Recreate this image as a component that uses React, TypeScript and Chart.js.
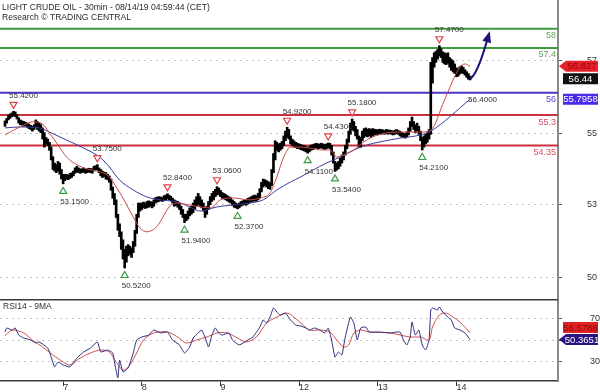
import React, { useEffect, useRef } from 'react';
import { Chart, registerables } from 'chart.js';

Chart.register(...registerables);

const FONT = '"Liberation Sans", Arial, sans-serif';

const titleText = 'LIGHT CRUDE OIL - 30min - 08/14/19 04:59:44 (CET)';
const subtitleText = 'Research © TRADING CENTRAL';
const rsiTitle = 'RSI14 - 9MA';

// 30-min bars: low / high per bar index
const barLows = [
  54.95,55.05,55.15,55.20,55.25,55.28,55.25,55.18,55.05,55.00,
  54.98,54.95,54.98,54.92,54.88,54.85,54.80,54.85,54.90,54.85,
  54.80,54.75,54.55,54.30,54.40,54.35,54.20,53.90,53.60,53.55,
  53.50,53.55,53.45,53.30,53.15,53.25,53.30,53.28,53.32,53.35,
  53.40,53.48,53.52,53.50,53.48,53.50,53.52,53.48,53.50,53.52,
  53.50,53.48,53.55,53.58,53.58,53.50,53.40,53.35,53.38,53.30,
  53.28,53.20,52.95,52.70,52.50,52.10,51.70,51.50,51.10,50.80,
  50.52,50.70,50.90,50.95,50.85,51.00,51.20,51.60,52.10,52.30,
  52.35,52.40,52.38,52.40,52.42,52.45,52.40,52.45,52.55,52.58,
  52.60,52.62,52.60,52.62,52.65,52.68,52.65,52.62,52.55,52.45,
  52.48,52.42,52.35,52.20,52.10,51.94,52.00,52.05,52.15,52.20,
  52.25,52.35,52.45,52.50,52.45,52.40,52.30,52.10,52.20,52.35,
  52.50,52.60,52.65,52.75,52.80,52.82,52.75,52.70,52.68,52.65,
  52.62,52.58,52.55,52.48,52.42,52.40,52.37,52.40,52.45,52.48,
  52.50,52.48,52.52,52.55,52.58,52.60,52.62,52.60,52.65,52.70,
  52.90,53.05,53.10,53.05,53.00,52.98,53.10,53.50,53.90,54.20,
  54.15,54.20,54.25,54.35,54.50,54.60,54.55,54.40,54.35,54.30,
  54.28,54.25,54.25,54.22,54.20,54.18,54.15,54.11,54.15,54.20,
  54.22,54.25,54.28,54.25,54.26,54.28,54.25,54.22,54.25,54.28,
  54.25,54.05,53.80,53.54,53.58,53.62,53.70,53.80,53.90,54.05,
  54.25,54.45,54.70,54.85,54.80,54.65,54.55,54.30,54.30,54.50,
  54.60,54.65,54.62,54.66,54.60,54.65,54.68,54.70,54.68,54.72,
  54.70,54.72,54.70,54.72,54.70,54.72,54.70,54.68,54.70,54.72,
  54.70,54.65,54.62,54.60,54.58,54.62,54.68,54.80,54.95,54.85,
  54.75,54.80,54.70,54.50,54.21,54.30,54.40,54.45,54.55,54.70,
  56.30,56.80,56.95,57.05,57.15,57.10,56.95,56.90,56.88,56.92,
  56.80,56.70,56.65,56.60,56.50,56.52,56.58,56.62,56.60,56.55,
  56.48,56.42,56.40,
];
const barHighs = [
  55.12,55.20,55.30,55.34,55.37,55.42,55.40,55.32,55.22,55.15,
  55.12,55.10,55.08,55.05,55.02,54.98,54.95,55.00,55.15,55.10,
  55.05,55.00,54.90,54.75,54.60,54.55,54.45,54.30,54.00,53.80,
  53.75,53.85,53.80,53.60,53.45,53.45,53.45,53.42,53.48,53.50,
  53.55,53.65,53.70,53.65,53.62,53.62,53.65,53.60,53.62,53.64,
  53.63,53.62,53.70,53.72,53.75,53.65,53.60,53.55,53.52,53.50,
  53.45,53.40,53.30,53.05,52.85,52.65,52.20,51.90,51.65,51.40,
  51.10,51.20,51.25,51.20,51.15,51.35,51.70,52.20,52.55,52.55,
  52.55,52.58,52.55,52.60,52.62,52.60,52.58,52.65,52.72,52.74,
  52.75,52.74,52.72,52.78,52.80,52.84,52.80,52.76,52.70,52.65,
  52.62,52.60,52.55,52.45,52.35,52.20,52.20,52.30,52.40,52.45,
  52.55,52.65,52.75,52.85,52.75,52.65,52.55,52.40,52.45,52.60,
  52.75,52.85,52.92,52.98,53.06,53.02,52.95,52.88,52.85,52.82,
  52.78,52.75,52.72,52.65,52.60,52.55,52.52,52.55,52.60,52.62,
  52.65,52.65,52.70,52.72,52.75,52.78,52.80,52.78,52.85,53.00,
  53.20,53.30,53.28,53.25,53.22,53.18,53.60,54.10,54.50,54.45,
  54.40,54.42,54.48,54.65,54.80,54.92,54.85,54.65,54.55,54.50,
  54.45,54.42,54.40,54.38,54.36,54.35,54.32,54.28,54.32,54.36,
  54.38,54.40,54.42,54.40,54.40,54.42,54.40,54.38,54.40,54.43,
  54.42,54.35,54.15,53.85,53.80,53.85,53.95,54.05,54.15,54.35,
  54.55,54.80,55.05,55.18,55.10,54.95,54.85,54.65,54.60,54.80,
  54.88,54.90,54.86,54.88,54.85,54.88,54.86,54.85,54.84,54.86,
  54.85,54.84,54.82,54.85,54.84,54.83,54.82,54.80,54.83,54.85,
  54.82,54.80,54.76,54.74,54.72,54.78,54.90,55.10,55.24,55.10,
  55.00,55.05,54.95,54.80,54.60,54.65,54.70,54.75,54.85,56.95,
  57.10,57.25,57.30,57.35,57.47,57.38,57.28,57.25,57.22,57.25,
  57.10,57.05,57.00,56.90,56.78,56.75,56.82,56.84,56.80,56.72,
  56.66,56.60,56.52,
];

// moving averages: [bar index, value]
const maFast = [
  [0,54.68],[5,54.83],[11,54.99],[16,55.09],[22,55.02],[26,54.74],[31,54.37],[36,53.99],
  [46,53.65],[56,53.52],[61,53.37],[65,53.05],[69,52.71],[75,52.11],[79,51.77],[83,51.65],
  [89,51.83],[92,52.08],[96,52.43],[100,52.55],[108,52.49],[114,52.43],[120,52.40],[126,52.65],
  [133,52.71],[143,52.65],[149,52.71],[155,52.87],[159,53.37],[163,53.99],[167,54.30],[173,54.30],
  [178,54.27],[186,54.21],[190,54.21],[194,53.99],[198,54.05],[204,54.21],[209,54.43],[215,54.62],
  [223,54.74],[231,54.77],[243,54.77],[249,54.83],[257,55.77],[266,56.80],[269,56.90],[272,56.827],
];
const maSlow = [
  [0,54.90],[9,54.93],[20,54.90],[26,54.77],[36,54.52],[46,54.27],[56,53.96],[61,53.68],
  [67,53.27],[75,52.96],[83,52.74],[91,52.65],[101,52.58],[108,52.43],[114,52.30],[124,52.43],
  [133,52.49],[143,52.55],[151,52.65],[159,52.96],[167,53.21],[173,53.37],[180,53.58],[188,53.80],
  [196,53.99],[204,54.21],[212,54.37],[219,54.46],[231,54.58],[243,54.68],[249,54.80],[272,55.7958],
];

// RSI(14) and its 9-period MA: [bar index, value]
const rsi14 = [
  [0,57.3],[1,60.9],[4,59.1],[6,60.9],[8,54.5],[11,51.8],[15,50],[18,47.3],[20,48.2],[25,42.7],
  [27,34.5],[29,25.5],[31,30],[34,27.3],[38,25.5],[42,33.6],[46,39.1],[50,42.7],[54,48.2],[56,39.1],
  [60,40.9],[63,38.2],[64,30],[66,15.5],[67,31.8],[69,20.9],[72,24.5],[75,38.2],[77,50],[80,52.7],
  [84,54.5],[87,59.1],[91,56.4],[95,57.3],[98,50],[102,45.5],[105,38.2],[108,43.6],[110,51.8],[113,56.4],
  [115,59.1],[117,52.7],[119,43.6],[121,54.5],[123,60.9],[125,56.4],[127,54.5],[131,56.4],[133,50],[137,45.5],
  [142,50],[145,52.7],[149,61.8],[151,68.2],[153,65.5],[155,70.9],[157,79.1],[159,75.5],[161,72.7],[164,74.5],
  [167,68.2],[170,63.6],[173,62.7],[176,60.9],[178,59.1],[181,60.9],[184,59.1],[187,56.4],[189,60.9],[191,50],
  [193,34.5],[195,39.1],[197,36.4],[199,52.7],[202,70.9],[204,65.5],[206,50],[208,60.9],[211,61.8],[213,57.3],
  [219,57.3],[225,56.4],[231,57.3],[233,50],[235,45.5],[237,52.7],[238,66.4],[240,54.5],[242,59.1],[244,45.5],
  [246,40.9],[248,50],[249,77.3],[250,79.1],[253,77.3],[254,80],[256,75.5],[259,70.9],[261,68.2],[263,60.9],
  [266,59.1],[269,56.4],[272,50.3651],
];
const rsiMa9 = [
  [0,54],[3,58.2],[5,59.1],[11,56.4],[16,50],[22,43.6],[28,36.4],[34,30],[38,27.3],[44,33.6],
  [50,38.2],[56,40.9],[61,39.1],[65,30],[69,22.7],[73,27.3],[77,38.2],[81,50],[87,56.4],[95,57.3],
  [101,52.7],[106,47.3],[112,50],[118,52.7],[124,56.4],[130,56.4],[136,51.8],[141,48.2],[147,52.7],[153,65.5],
  [159,70.9],[165,74.5],[171,68.2],[178,59.1],[184,59.1],[190,57.3],[194,50],[198,43.6],[201,45.5],[204,56.4],
  [208,59.1],[213,57.3],[225,56.4],[237,52.7],[243,52.7],[248,50],[250,61.8],[254,72.7],[258,74.5],[262,70.9],
  [266,66.4],[272,56.5788],
];

// horizontal levels
const levelValues = [58, 57.4, 56, 55.3, 54.35];
const levelKinds = ['target', 'target', 'pivot', 'support', 'support'];

// swing markers
const markerIndex = [5, 34, 54, 70, 95, 105, 124, 136, 165, 177, 189, 193, 203, 244, 254];
const markerValue = [55.42, 53.15, 53.75, 50.52, 52.84, 51.94, 53.06, 52.37, 54.92, 54.11, 54.43, 53.54, 55.18, 54.21, 57.47];
const markerType = ['high','low','high','low','high','low','high','low','high','low','high','low','high','low','high'];

const lastClose = 56.44;
const maFastLast = 56.827;
const maSlowLast = 55.7958;
const pivotLabelValue = 56.4;
const rsiLast = 50.3651;
const rsiMaLast = 56.5788;
const arrowPath = [[272, 56.44], [276, 56.55], [283.5, 57.92]];

const dayTickIndex = [34, 80, 126, 172, 218, 264];
const dayTickLabels = ['7', '8', '9', '12', '13', '14'];
const priceTickValues = [57.02, 54.74, 52.49, 50.21];
const priceTickLabels = ['57', '55', '53', '50'];
const rsiTickValues = [70, 50, 30];
const rsiTickLabels = ['70', '', '30'];

const X_MIN = -2.924;
const X_MAX = 323.4;
const PRICE_MIN = 49.55;
const PRICE_MAX = 58.9;
const RSI_MIN = 12.7;
const RSI_MAX = 87.3;

const levelStyle: Record<string, { line: string; text: string }> = {
  target: { line: '#3f9b3f', text: '#5e9e55' },
  pivot: { line: '#4b35c8', text: '#5544dd' },
  support: { line: '#cc2f3d', text: '#d4505e' },
};
const ARROW = '#1c1478';

function drawTag(ctx: any, right: number, y: number, text: string, bg: string, fg: string, arrow: boolean) {
  const h = 11;
  const l = arrow ? right + 8 : right + 5;
  const r = right + 40;
  ctx.fillStyle = bg;
  ctx.beginPath();
  if (arrow) {
    ctx.moveTo(right + 1, y);
    ctx.lineTo(l, y - h / 2);
    ctx.lineTo(r, y - h / 2);
    ctx.lineTo(r, y + h / 2);
    ctx.lineTo(l, y + h / 2);
    ctx.closePath();
  } else {
    ctx.rect(l, y - h / 2, r - l, h);
  }
  ctx.fill();
  ctx.fillStyle = fg;
  ctx.font = `9.5px ${FONT}`;
  ctx.textAlign = 'center';
  ctx.textBaseline = 'middle';
  ctx.fillText(text, (l + r) / 2, y + 0.5);
}

function drawTriangle(ctx: any, x: number, cy: number, down: boolean, color: string) {
  const w = 3.5, h = 3;
  ctx.beginPath();
  if (down) {
    ctx.moveTo(x - w, cy - h);
    ctx.lineTo(x + w, cy - h);
    ctx.lineTo(x, cy + h);
  } else {
    ctx.moveTo(x - w, cy + h);
    ctx.lineTo(x + w, cy + h);
    ctx.lineTo(x, cy - h);
  }
  ctx.closePath();
  ctx.fillStyle = '#ffffff';
  ctx.fill();
  ctx.strokeStyle = color;
  ctx.lineWidth = 1.2;
  ctx.stroke();
}

const pricePlugin = {
  id: 'priceOverlay',
  afterDatasetsDraw(chart: any) {
    const { ctx, chartArea: ca, scales } = chart;
    const xs = scales.x, ys = scales.y;
    ctx.save();
    ctx.font = `9px ${FONT}`;
    ctx.textAlign = 'right';
    ctx.textBaseline = 'alphabetic';
    levelValues.forEach((v, k) => {
      ctx.fillStyle = levelStyle[levelKinds[k]].text;
      ctx.fillText(String(v), ca.right - 2, ys.getPixelForValue(v) + 9.5);
    });
    markerIndex.forEach((idx, k) => {
      const x = xs.getPixelForValue(idx);
      const y = ys.getPixelForValue(markerValue[k]);
      const high = markerType[k] === 'high';
      drawTriangle(ctx, x, high ? y - 6 : y + 6.5, high, high ? '#e0404a' : '#3a9a48');
      ctx.fillStyle = '#333333';
      ctx.font = `8px ${FONT}`;
      ctx.textAlign = 'left';
      ctx.textBaseline = 'alphabetic';
      ctx.fillText(markerValue[k].toFixed(4), x + (high ? -4.5 : -3), high ? y - 13.5 : y + 20.5);
    });
    {
      const x = xs.getPixelForValue(maSlow[maSlow.length - 1][0]);
      const y = ys.getPixelForValue(maSlowLast);
      ctx.fillStyle = '#333333';
      ctx.font = `8px ${FONT}`;
      ctx.textAlign = 'left';
      ctx.fillText(pivotLabelValue.toFixed(4), x - 2, y + 2.7);
    }
    {
      const p = arrowPath.map(([i, v]) => ({ x: xs.getPixelForValue(i), y: ys.getPixelForValue(v) }));
      const [p0, p1, p2] = p;
      const ang = Math.atan2(p2.y - p1.y, p2.x - p1.x);
      const headLen = 11, headW = 4.5;
      const bx = p2.x - headLen * Math.cos(ang);
      const by = p2.y - headLen * Math.sin(ang);
      ctx.strokeStyle = ARROW;
      ctx.lineWidth = 2;
      ctx.beginPath();
      ctx.moveTo(p0.x, p0.y);
      ctx.quadraticCurveTo(p1.x, p1.y, bx, by);
      ctx.stroke();
      ctx.beginPath();
      ctx.moveTo(p2.x, p2.y);
      ctx.lineTo(bx + headW * Math.sin(ang), by - headW * Math.cos(ang));
      ctx.lineTo(bx - headW * Math.sin(ang), by + headW * Math.cos(ang));
      ctx.closePath();
      ctx.fillStyle = ARROW;
      ctx.fill();
    }
    ctx.restore();
  },
  afterDraw(chart: any) {
    const { ctx, chartArea: ca, scales } = chart;
    const ys = scales.y;
    ctx.save();
    ctx.fillStyle = '#2a2a2a';
    ctx.font = `8.6px ${FONT}`;
    ctx.textAlign = 'left';
    ctx.textBaseline = 'alphabetic';
    ctx.fillText(titleText, 2, 9.5);
    ctx.fillText(subtitleText, 2, 20);
    drawTag(ctx, ca.right, ys.getPixelForValue(maFastLast), String(maFastLast), '#e8202a', '#8a0a0a', true);
    drawTag(ctx, ca.right, ys.getPixelForValue(lastClose), String(lastClose), '#111111', '#ffffff', false);
    drawTag(ctx, ca.right, ys.getPixelForValue(maSlowLast), String(maSlowLast), '#4a2ae8', '#ffffff', false);
    ctx.restore();
  },
};

const rsiPlugin = {
  id: 'rsiOverlay',
  afterDraw(chart: any) {
    const { ctx, chartArea: ca, scales } = chart;
    const ys = scales.y;
    ctx.save();
    ctx.strokeStyle = '#3a3a3a';
    ctx.lineWidth = 1.5;
    ctx.beginPath();
    ctx.moveTo(0, ca.top + 0.75);
    ctx.lineTo(ca.right, ca.top + 0.75);
    ctx.stroke();
    ctx.fillStyle = '#333333';
    ctx.font = `8.5px ${FONT}`;
    ctx.textAlign = 'left';
    ctx.textBaseline = 'alphabetic';
    ctx.fillText(rsiTitle, 3, ca.top + 9.5);
    let yMa = ys.getPixelForValue(rsiMaLast);
    let yR = ys.getPixelForValue(rsiLast);
    if (Math.abs(yMa - yR) < 12) {
      if (yMa <= yR) yMa = yR - 12; else yR = yMa - 12;
    }
    drawTag(ctx, ca.right, yMa, String(rsiMaLast), '#e02222', '#8a0a0a', false);
    drawTag(ctx, ca.right, yR, String(rsiLast), '#2a1480', '#ffffff', true);
    ctx.restore();
  },
};

function fixedTicks(values: number[]) {
  return (scale: any) => {
    scale.ticks = values.map((v) => ({ value: v }));
  };
}

function fitVertical(scale: any) {
  scale.width = 42;
  scale.paddingTop = 0;
  scale.paddingBottom = 0;
}

function fitHorizontal(scale: any) {
  scale.height = 11;
  scale.paddingLeft = 0;
  scale.paddingRight = 0;
}

export default function App() {
  const topRef = useRef<HTMLCanvasElement>(null);
  const botRef = useRef<HTMLCanvasElement>(null);

  useEffect(() => {
    const levelSets = levelValues.map((v, k) => ({
      type: 'line',
      data: [{ x: X_MIN, y: v }, { x: X_MAX, y: v }],
      borderColor: levelStyle[levelKinds[k]].line,
      borderWidth: 2,
      pointRadius: 0,
      order: 5,
    }));
    const top = new Chart(topRef.current as HTMLCanvasElement, {
      type: 'bar',
      data: {
        datasets: [
          ...levelSets,
          {
            type: 'bar',
            data: barLows.map((lo, i) => ({ x: i, y: [lo, barHighs[i]] })),
            backgroundColor: '#000000',
            barThickness: 2,
            grouped: false,
            order: 3,
          },
          {
            type: 'line',
            data: maSlow.map(([x, y]) => ({ x, y })),
            borderColor: '#3b3b9e',
            borderWidth: 1,
            pointRadius: 0,
            cubicInterpolationMode: 'monotone',
            order: 2,
          },
          {
            type: 'line',
            data: maFast.map(([x, y]) => ({ x, y })),
            borderColor: '#c94848',
            borderWidth: 1,
            pointRadius: 0,
            cubicInterpolationMode: 'monotone',
            order: 1,
          },
        ] as any,
      },
      options: {
        responsive: false,
        animation: false,
        events: [],
        layout: { padding: 0 },
        plugins: { legend: { display: false }, tooltip: { enabled: false } },
        scales: {
          x: { type: 'linear', display: false, min: X_MIN, max: X_MAX, offset: false, grid: { offset: false } },
          y: {
            type: 'linear',
            position: 'right',
            min: PRICE_MIN,
            max: PRICE_MAX,
            afterFit: fitVertical,
            afterBuildTicks: fixedTicks(priceTickValues),
            ticks: {
              autoSkip: false,
              padding: 25,
              color: '#333333',
              font: { family: FONT, size: 9 },
              callback: (_v: any, i: number) => priceTickLabels[i],
            },
            grid: { color: '#c4c4c4', lineWidth: 1, tickLength: 4, tickColor: '#555555', tickWidth: 1 },
            border: { display: true, color: '#8a8a8a', width: 2, dash: [2, 4] },
          },
        },
      } as any,
      plugins: [pricePlugin],
    });

    const bot = new Chart(botRef.current as HTMLCanvasElement, {
      type: 'line',
      data: {
        datasets: [
          {
            data: rsiMa9.map(([x, y]) => ({ x, y })),
            borderColor: '#d05050',
            borderWidth: 1,
            pointRadius: 0,
            tension: 0.3,
            order: 2,
          },
          {
            data: rsi14.map(([x, y]) => ({ x, y })),
            borderColor: '#2b2b7e',
            borderWidth: 1,
            pointRadius: 0,
            tension: 0.15,
            order: 1,
          },
        ],
      },
      options: {
        responsive: false,
        animation: false,
        events: [],
        layout: { padding: 0 },
        plugins: { legend: { display: false }, tooltip: { enabled: false } },
        scales: {
          x: {
            type: 'linear',
            min: X_MIN,
            max: X_MAX,
            offset: false,
            afterFit: fitHorizontal,
            afterBuildTicks: fixedTicks(dayTickIndex),
            ticks: {
              autoSkip: false,
              maxRotation: 0,
              align: 'start',
              padding: -4,
              color: '#333333',
              font: { family: FONT, size: 9 },
              callback: (_v: any, i: number) => dayTickLabels[i],
            },
            grid: { drawOnChartArea: false, drawTicks: true, tickLength: 5, tickColor: '#333333', offset: false },
            border: { display: true, color: '#3a3a3a', width: 1.5 },
          },
          y: {
            type: 'linear',
            position: 'right',
            min: RSI_MIN,
            max: RSI_MAX,
            afterFit: fitVertical,
            afterBuildTicks: fixedTicks(rsiTickValues),
            ticks: {
              autoSkip: false,
              padding: 28,
              color: '#333333',
              font: { family: FONT, size: 9 },
              callback: (_v: any, i: number) => rsiTickLabels[i],
            },
            grid: { color: '#c4c4c4', lineWidth: 1, tickLength: 4, tickColor: '#555555', tickWidth: 1 },
            border: { display: true, color: '#8a8a8a', width: 2, dash: [2, 4] },
          },
        },
      } as any,
      plugins: [rsiPlugin],
    });

    return () => {
      top.destroy();
      bot.destroy();
    };
  }, []);

  return (
    <div style={{ position: 'absolute', left: 0, top: 0, width: 600, height: 392, background: '#ffffff', overflow: 'hidden' }}>
      <canvas ref={topRef} width={600} height={299} style={{ position: 'absolute', left: 0, top: 0 }} />
      <canvas ref={botRef} width={600} height={93} style={{ position: 'absolute', left: 0, top: 299 }} />
    </div>
  );
}
